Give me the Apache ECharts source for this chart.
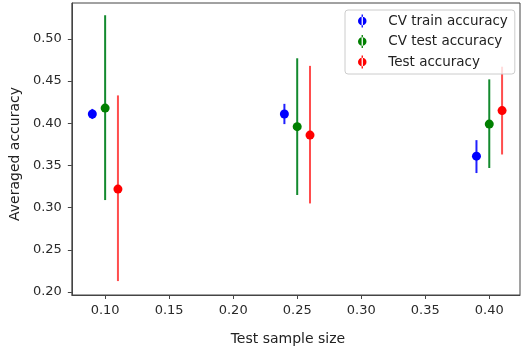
<!DOCTYPE html>
<html>
<head>
<meta charset="utf-8">
<script src="https://cdn.jsdelivr.net/npm/echarts@6/dist/echarts.min.js"></script>
<style>
  html, body { margin: 0; padding: 0; background: #fff; }
  #chart { width: 526px; height: 351px; }
</style>
</head>
<body>
<div id="chart"></div>
<script>
// values
const trainX = [0.09, 0.24, 0.39];
const trainMean = [0.411, 0.411, 0.361];
const trainLow = [0.405, 0.399, 0.341];
const trainHigh = [0.417, 0.423, 0.380];

const cvTestX = [0.10, 0.25, 0.40];
const cvTestMean = [0.418, 0.396, 0.399];
const cvTestLow = [0.309, 0.315, 0.347];
const cvTestHigh = [0.528, 0.477, 0.452];

const testX = [0.11, 0.26, 0.41];
const testMean = [0.322, 0.386, 0.415];
const testLow = [0.213, 0.305, 0.363];
const testHigh = [0.433, 0.468, 0.467];

const xTicks = [0.10, 0.15, 0.20, 0.25, 0.30, 0.35, 0.40];
const yTicks = [0.20, 0.25, 0.30, 0.35, 0.40, 0.45, 0.50];

const legendIcon = 'path://M3.6,0h1.3v13h-1.3Z M4.25,2.25a4.25,4.25 0 1,0 0.01,0Z';
const font = 'DejaVu Sans';

function errBars(name, xs, lo, hi, color) {
  return {
    name: name,
    type: 'custom',
    z: 2,
    data: xs.map((x, i) => [x, lo[i], hi[i]]),
    encode: { x: 0, y: [1, 2] },
    renderItem(params, api) {
      const p1 = api.coord([api.value(0), api.value(1)]);
      const p2 = api.coord([api.value(0), api.value(2)]);
      return {
        type: 'line',
        shape: { x1: p1[0], y1: p1[1], x2: p2[0], y2: p2[1] },
        style: { stroke: color, lineWidth: 2 },
      };
    },
  };
}

function points(name, xs, ys, color) {
  return {
    name: name,
    type: 'scatter',
    z: 3,
    symbol: 'circle',
    symbolSize: 9,
    itemStyle: { color: color, opacity: 1 },
    data: xs.map((x, i) => [x, ys[i]]),
  };
}

const chart = echarts.init(document.getElementById('chart'));
chart.setOption({
  animation: false,
  grid: {
    left: 68,
    right: 6,
    top: 3,
    bottom: 55,
    show: true,
    borderColor: '#444',
    borderWidth: 1,
  },
  legend: {
    orient: 'vertical',
    left: 345,
    top: 10,
    padding: [4, 7, 5, 13],
    itemGap: 6.5,
    itemWidth: 10,
    itemHeight: 13,
    backgroundColor: 'rgba(255,255,255,0.8)',
    borderColor: '#ccc',
    borderWidth: 1,
    borderRadius: 3,
    formatter: (name) => '{p|}' + name,
    textStyle: {
      fontFamily: font,
      fontSize: 13.5,
      color: '#222',
      lineHeight: 14,
      rich: { p: { width: 16 } },
    },
    data: [
      { name: 'CV train accuracy', icon: legendIcon },
      { name: 'CV test accuracy', icon: legendIcon },
      { name: 'Test accuracy', icon: legendIcon },
    ],
  },
  xAxis: {
    type: 'value',
    min: 0.074,
    max: 0.424,
    name: 'Test sample size',
    nameLocation: 'middle',
    nameGap: 37,
    nameTextStyle: { fontFamily: font, fontSize: 14, color: '#222', padding: [0, 16, 0, 0] },
    splitLine: { show: false },
    axisLine: { show: true, lineStyle: { color: '#444' } },
    axisTick: { show: true, length: 4, customValues: xTicks, lineStyle: { color: '#444' } },
    axisLabel: {
      customValues: xTicks,
      margin: 9,
      fontFamily: font,
      fontSize: 13,
      color: '#2a2a2a',
      formatter: (v) => v.toFixed(2),
    },
  },
  yAxis: {
    type: 'value',
    min: 0.1965,
    max: 0.5425,
    name: 'Averaged accuracy',
    nameLocation: 'middle',
    nameGap: 49,
    nameTextStyle: { fontFamily: font, fontSize: 14, color: '#222', padding: [0, 10, 0, 0] },
    splitLine: { show: false },
    axisLine: { show: true, lineStyle: { color: '#444' } },
    axisTick: { show: true, length: 4, customValues: yTicks, lineStyle: { color: '#444' } },
    axisLabel: {
      customValues: yTicks,
      margin: 10,
      fontFamily: font,
      fontSize: 13,
      color: '#2a2a2a',
      formatter: (v) => v.toFixed(2),
    },
  },
  series: [
    errBars('trainErr', trainX, trainLow, trainHigh, '#2020ff'),
    errBars('cvTestErr', cvTestX, cvTestLow, cvTestHigh, '#138a2e'),
    errBars('testErr', testX, testLow, testHigh, '#ff4d4d'),
    points('CV train accuracy', trainX, trainMean, '#0000ff'),
    points('CV test accuracy', cvTestX, cvTestMean, '#008000'),
    points('Test accuracy', testX, testMean, '#ff0000'),
  ],
});
</script>
</body>
</html>
